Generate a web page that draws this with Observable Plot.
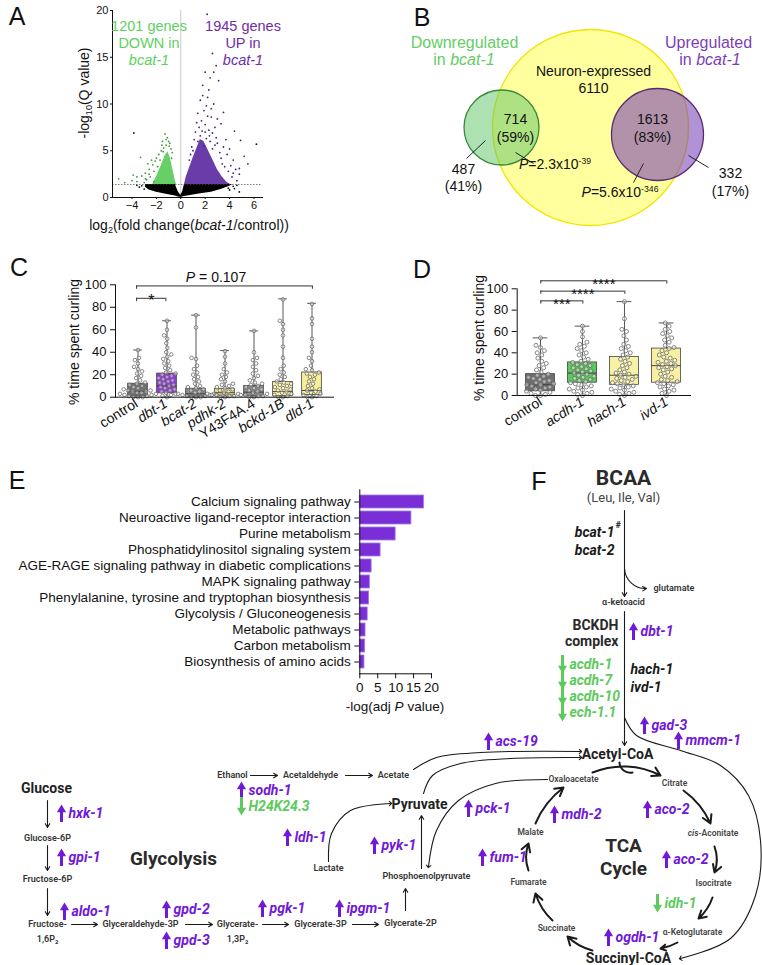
<!DOCTYPE html>
<html><head><meta charset="utf-8">
<script src="https://cdn.jsdelivr.net/npm/d3@7"></script>
<script src="https://cdn.jsdelivr.net/npm/@observablehq/plot@0.6"></script>
<style>
html,body{margin:0;padding:0;background:#fff;}
#fig{position:relative;width:762px;height:965px;overflow:hidden;background:#fff;font-family:"Liberation Sans",Arial,sans-serif;color:#111;}
#fig svg{position:absolute;}
.lbl{position:absolute;white-space:nowrap;line-height:1;}
.lbl sub{font-size:0.65em;vertical-align:-0.3em;line-height:0;}
.lbl sup{font-size:0.62em;vertical-align:0.55em;line-height:0;}
</style></head><body><div id="fig"></div>
<script>
// ================= DATA =================
// Panel A – volcano
const qThreshold = 1.39;
const envBlackX  = [-2.9,-2.6,-2.0,-1.5,-1.0,-0.45,-0.2,0,0.15,0.3,0.8,1.5,2.5,3.3,3.8,4.2];
const envBlackLo = [1.1,0.8,0.55,0.42,0.3,0.15,0.06,0,0.05,0.1,0.22,0.38,0.55,0.85,1.1,1.3];
const envBlackHi = [1.39,1.39,1.39,1.39,1.39,1.39,0.6,0.25,0.6,1.39,1.39,1.39,1.39,1.39,1.39,1.39];
const envGreenX  = [-2.3,-2.0,-1.6,-1.3,-1.05,-0.85,-0.65,-0.45,-0.35];
const envGreenHi = [1.39,2.2,3.4,4.4,4.9,4.2,3.0,1.8,1.39];
const envPurpleX  = [0.3,0.45,0.7,1.0,1.3,1.6,1.9,2.2,2.6,3.0,3.4,3.8,4.1];
const envPurpleHi = [1.39,2.2,3.1,4.2,5.2,6.2,6.0,5.2,4.1,3.0,2.2,1.6,1.39];
const greenPts = [[-1.3,6.8],[-1.1,6.4],[-1.5,6.0],[-0.9,5.8],[-1.6,5.0],[-2.0,4.2],[-2.3,3.5],[-2.6,3.0],[-2.9,2.6],[-3.2,2.3],[-3.6,2.2],[-4.0,1.8],[-3.3,4.3],[-2.7,3.6],[-5.1,2.0],[-3.6,1.7],[-1.2,5.6],[-1.4,5.3],[-0.8,5.2],[-1.8,4.6],[-2.2,2.8],[-1.9,3.3],[-2.5,2.2],[-4.6,1.6],[-1.0,6.0],[-0.7,4.8],[-2.8,1.9],[-3.0,1.6],[-1.7,4.0],[-2.4,4.0],[-1.2,6.2],[-0.95,5.5],[-1.45,4.9],[-2.1,3.9],[-2.9,2.0],[-3.9,2.4],[-2.6,2.5],[-2.2,1.7],[-1.55,5.6],[-0.75,4.2]];
const purplePts = [[2.16,19.6],[2.6,15.4],[2.0,13.4],[2.7,13.4],[2.4,12.8],[3.1,12.5],[1.8,12.0],[2.9,14.1],[1.6,10.4],[2.2,10.7],[2.7,10.0],[3.5,9.1],[1.4,9.0],[1.9,9.3],[2.5,8.6],[3.3,7.9],[4.4,7.1],[4.9,6.1],[5.2,4.4],[5.5,3.6],[4.3,4.0],[4.8,2.5],[4.1,3.4],[4.8,3.1],[3.5,5.4],[2.9,6.4],[3.8,4.6],[1.7,8.2],[2.0,7.8],[2.3,7.2],[1.2,7.0],[1.5,7.5],[2.6,6.9],[3.0,5.8],[3.2,4.8],[1.1,6.2],[0.9,5.4],[2.1,9.8],[1.8,10.9],[2.3,11.5],[2.5,9.5],[3.0,8.4],[3.7,6.2],[4.0,5.2],[4.5,3.0],[0.7,4.0],[3.4,3.6],[3.9,2.8],[4.2,2.2],[4.6,1.8],[2.2,8.7],[1.3,8.0],[2.8,7.5],[2.4,6.0],[1.9,5.5],[1.6,6.6],[2.1,6.3],[2.0,7.0],[2.6,5.2],[3.3,4.2],[1.4,6.0],[1.75,7.1],[2.35,6.6],[2.8,5.6],[3.6,3.3],[4.3,2.6],[1.0,5.0],[0.8,4.6]];
const blackPts = [[-3.85,6.9],[4.8,0.6],[6.2,5.7],[-3.4,1.1],[-3.0,0.9],[3.9,1.0],[4.3,1.2],[4.0,0.8],[-3.2,1.25],[4.6,1.3],[4.4,0.95],[-3.6,1.3]];

// Panel B – Venn
const vennSets   = ["Neuron-expressed","Downregulated","Upregulated"];
const vennCx     = [210,121,277];
const vennCy     = [127,127,134];
const vennR      = [98,37.5,46];
const vennFill   = ["#ffff9e","#5cc464","#7339b4"];
const vennStroke = ["#f2e600","#3a8a3a","#5b2a6e"];
const vennOpacity = [1,0.5,0.55];
const vennCounts = [
  {text:"Neuron-expressed\n6110", x:213, y:78.5},
  {text:"714\n(59%)", x:135, y:127},
  {text:"1613\n(83%)", x:272, y:127},
  {text:"487\n(41%)", x:83, y:176.5},
  {text:"332\n(17%)", x:350, y:181}
];
const vennLeaders = [[86,158,105,140],[135,152,153,163],[308,155,328,167],[263,163,253,182]];

// Panel C – curling, BCAA enzymes
const catsC = ["control","dbt-1","bcat-2","pdhk-2","Y43F4A.4","bckd-1B","dld-1"];
const boxMinC = [0,0,0,0,0,0,0];
const boxQ1C  = [1,3.5,0.5,1.5,1,1,2];
const boxMedC = [5,10,3,4,4.5,5,6];
const boxQ3C  = [12,21,7.5,7.5,10,13.5,22];
const boxMaxC = [42,68,73,41.5,59,87.5,83.5];
const boxColorC = ["#707070","#9434e0","#8a8a8a","#e6e18a","#8c8c8c","#f9f3a2","#f7ef98"];
const cControl = [0,0,0,1,1,2,2,3,3,4,4,5,5,6,6,7,8,9,10,11,12,13,15,17,19,21,23,25,27,30,33,35,42];
const cDbt1 = [0,1,2,3,4,5,6,7,8,9,10,11,12,13,14,15,16,17,18,19,20,21,22,24,26,28,30,32,34,36,38,40,44,48,52,55,60,68];
const cBcat2 = [0,0,0,1,1,2,2,3,3,4,5,6,7,8,9,10,12,14,16,18,20,22,25,28,34,35,62,73];
const cPdhk2 = [0,0,1,1,2,2,3,3,4,5,6,7,8,9,10,11,12,14,16,18,20,22,25,30,36,41];
const cY43 = [0,0,1,1,2,2,3,4,5,6,7,8,9,10,11,12,13,15,17,19,21,24,27,30,33,35,40,59];
const cBckd = [0,0,1,2,3,4,5,6,7,8,9,10,11,12,13,14,16,18,20,22,25,28,35,45,55,60,65,68,87];
const cDld1 = [0,0,1,2,3,4,5,6,7,8,10,12,14,16,18,20,21,22,24,25,28,32,35,40,45,52,65,70,83];
const bracketFromC = [0,0];
const bracketToC   = [1,6];
const bracketYC    = [88,99];
const bracketTextC = ["*",""];

// Panel D – curling, downstream enzymes
const catsD = ["control","acdh-1","hach-1","ivd-1"];
const boxMinD = [0,0,0,0];
const boxQ1D  = [4,12,10,12];
const boxMedD = [10,21,19,28];
const boxQ3D  = [20,31,36,44];
const boxMaxD = [54,65,88,68];
const boxColorD = ["#6e6e6e","#5dc85d","#f6f2a6","#f8f0a0"];
const dControl = [0,0,1,2,3,4,5,6,7,8,9,10,10,11,12,13,14,15,16,17,18,19,20,22,24,26,28,30,32,35,38,40,42,45,47,54];
const dAcdh1 = [0,1,2,3,4,5,6,7,8,9,10,11,12,13,14,15,16,17,18,19,20,21,22,23,24,25,26,27,28,29,30,31,32,34,36,38,40,42,44,46,48,50,55,60,65];
const dHach1 = [0,1,2,3,4,5,6,7,8,9,10,11,12,13,14,15,16,17,18,19,20,21,22,24,26,28,30,32,34,36,38,40,42,44,46,48,52,56,60,62,72,88];
const dIvd1 = [0,2,4,5,6,8,9,10,11,12,13,14,15,17,18,20,22,24,25,26,27,28,29,30,31,32,33,35,36,38,40,42,44,45,47,50,52,54,56,58,60,62,65,68];
const bracketFromD = [0,0,0];
const bracketToD   = [1,2,3];
const bracketYD    = [88.7,97.8,107.5];
const bracketTextD = ["***","****","****"];

// Panel E – KEGG enrichment
const pathwaysE = ["Calcium signaling pathway","Neuroactive ligand-receptor interaction","Purine metabolism","Phosphatidylinositol signaling system","AGE-RAGE signaling pathway in diabetic complications","MAPK signaling pathway","Phenylalanine, tyrosine and tryptophan biosynthesis","Glycolysis / Gluconeogenesis","Metabolic pathways","Carbon metabolism","Biosynthesis of amino acids"];
const valuesE = [17.9,14.4,10.0,5.8,3.3,2.8,2.6,2.2,1.6,1.5,1.3];
const ticksE = [0,5,10,15,20];

// Panel F – pathway diagram (layout in page pixels)
const metabSmall = [
  ["α-ketoacid",623,602],["Ethanol",232,775],["Acetaldehyde",310,775],["Acetate",393,775],
  ["Lactate",328,868],["Phosphoenolpyruvate",426,876],["Glycerate-2P",410,923],
  ["Glucose-6P",47,838],["Fructose-6P",47,879],["Fructose-",47,924],["1,6P₂",47,939],
  ["Glyceraldehyde-3P",140,924],["Glycerate-",237,924],["1,3P₂",237,939],["Glycerate-3P",320,924]
];
const metabTCA = [
  ["Oxaloacetate",573,779],["Citrate",674,783],["Isocitrate",713,883],
  ["α-Ketoglutarate",692,932],["Succinate",556,928],["Fumarate",528,882],["Malate",530,832]
];
const metabMid = [["Glucose",46,788],["Pyruvate",419,804],["Acetyl-CoA",617,754],["Succinyl-CoA",628,958]];
const metabBig = [["BCAA",623,478,21],["Glycolysis",173,858,19],["TCA",623,845,19],["Cycle",623,868,19]];
const genes = [
  ["dbt-1",633,631,"up"],["acdh-1",562,664,"down"],["acdh-7",562,680,"down"],["acdh-10",562,696,"down"],
  ["ech-1.1",562,712,"down"],["gad-3",644,725,"up"],["mmcm-1",678,740,"up"],["acs-19",488,741,"up"],
  ["sodh-1",241,790,"up"],["H24K24.3",241,806,"down"],["ldh-1",287,837,"up"],["pyk-1",374,845,"up"],
  ["pck-1",468,808,"up"],["mdh-2",554,814,"up"],["aco-2",647,809,"up"],["aco-2",666,859,"up"],
  ["fum-1",482,857,"up"],["idh-1",657,903,"down"],["ogdh-1",608,937,"up"],["hxk-1",61,813,"up"],
  ["gpi-1",61,857,"up"],["aldo-1",64,911,"up"],["gpd-2",166,909,"up"],["gpd-3",166,940,"up"],
  ["pgk-1",262,908,"up"],["ipgm-1",339,908,"up"]
];
const thinArrows = [
  [624,510,624,596,0],[624,568,646,588,-45],[624,611,624,745,0],
  [421,868,421,815,0],[405,910,405,888,0],[250,775,277,775,0],[345,775,372,775,0],
  [47,800,47,827,0],[47,845,47,870,0],[47,888,47,915,0],
  [71,924,97,924,0],[185,924,212,924,0],[262,924,288,924,0],[352,924,378,924,0]
];
const curvedPaths = [
  [[413,769],[436,757],[480,752],[580,751]],
  [[423,793],[432,775],[460,763],[510,758],[580,757]],
  [[547,779],[495,783],[458,800],[436,830],[428,866]],
  [[328,861],[331,833],[350,810],[390,803]],
  [[624,717],[636,735],[680,750],[720,765],[748,795],[760,840],[755,895],[730,938],[680,958]]
];
const tcaArrows = [
  [592,772,660,775,25],[683,790,710,823,15],[714,846,714,872,20],[712,897,698,918,15],
  [677,942,660,948,10],[592,950,567,936,15],[552,920,535,893,15],[528,870,528,843,20],[535,823,563,787,15]
];

// ================= HELPERS =================
const fig = document.getElementById("fig");
const SANS = "Liberation Sans, Arial, sans-serif";
const PURPLE = "#7019d6", GREEN = "#5ec95e";
function place(el, left, top) { el.style.left = left + "px"; el.style.top = top + "px"; fig.appendChild(el); return el; }
function addLabel(html, x, y, o = {}) {
  const d = document.createElement("div");
  d.className = "lbl"; d.innerHTML = html;
  const tx = o.anchor === "start" ? "0" : o.anchor === "end" ? "-100%" : "-50%";
  d.style.left = x + "px"; d.style.top = y + "px";
  d.style.fontSize = (o.size || 14) + "px";
  if (o.color) d.style.color = o.color;
  if (o.weight) d.style.fontWeight = o.weight;
  if (o.italic) d.style.fontStyle = "italic";
  if (o.family) d.style.fontFamily = o.family;
  d.style.transform = `translate(${tx},-50%)` + (o.rotate ? ` rotate(${o.rotate}deg)` : "");
  fig.appendChild(d);
}

// ================= PANEL A =================
const blackEnv = envBlackX.map((x, i) => ({x, lo: envBlackLo[i], hi: envBlackHi[i]}));
const greenEnv = envGreenX.map((x, i) => ({x, hi: envGreenHi[i]}));
const purpleEnv = envPurpleX.map((x, i) => ({x, hi: envPurpleHi[i]}));
const A = Plot.plot({
  width: 280, height: 240, marginLeft: 112, marginRight: 18, marginTop: 10, marginBottom: 43,
  style: {fontFamily: SANS, fontSize: "11px", color: "#111", background: "transparent"},
  x: {domain: [-5.6, 6.7], ticks: [-4,-2,0,2,4,6], tickSize: 2, tickPadding: 2, label: null},
  y: {domain: [0, 20], ticks: [0,5,10,15,20], tickSize: 2, tickPadding: 2, label: null},
  marks: [
    Plot.ruleX([0], {stroke: "#c8c8c8"}),
    Plot.areaY(blackEnv, {x: "x", y1: "lo", y2: "hi", fill: "#000"}),
    Plot.areaY(greenEnv, {x: "x", y1: qThreshold, y2: "hi", fill: "#66d066"}),
    Plot.areaY(purpleEnv, {x: "x", y1: qThreshold, y2: "hi", fill: "#6a3caa"}),
    Plot.dot(greenPts, {x: d => d[0], y: d => d[1], r: 0.9, fill: "#3f9a3f"}),
    Plot.dot(purplePts, {x: d => d[0], y: d => d[1], r: 0.9, fill: "#43207a"}),
    Plot.dot(blackPts, {x: d => d[0], y: d => d[1], r: 0.9, fill: "#111"}),
    Plot.ruleY([qThreshold], {stroke: "#444", strokeDasharray: "1.5,1.5", strokeWidth: 0.7}),
    Plot.frame({anchor: "left"}), Plot.frame({anchor: "bottom"})
  ]
});
place(A, 0, 0);

// ================= PANEL B =================
const vennData = vennSets.map((s, i) => ({s, cx: vennCx[i], cy: vennCy[i], r: vennR[i], fill: vennFill[i], stroke: vennStroke[i], op: vennOpacity[i]}));
const B = Plot.plot({
  width: 382, height: 230, margin: 0,
  style: {fontFamily: SANS, fontSize: "14px", color: "#111", background: "transparent", overflow: "visible"},
  x: {domain: [0, 382], range: [0, 382], axis: null},
  y: {domain: [0, 230], range: [0, 230], axis: null},
  r: {type: "identity"},
  marks: [
    Plot.dot(vennData, {x: "cx", y: "cy", r: "r", fill: "fill", stroke: "stroke", fillOpacity: "op", strokeWidth: 1.3}),
    Plot.link(vennLeaders, {x1: d => d[0], y1: d => d[1], x2: d => d[2], y2: d => d[3], stroke: "#222", strokeWidth: 1}),
    Plot.text(vennCounts, {x: "x", y: "y", text: "text", lineHeight: 1.25, fontSize: 14, fill: "#111"}),
    Plot.text(["Downregulated"], {x: 84, y: 42, text: d => d, fontSize: 16, fill: "#66cc66"}),
    Plot.text(["Upregulated"], {x: 328, y: 42, text: d => d, fontSize: 16, fill: "#7b3fb5"})
  ]
});
place(B, 380, 0);

// ================= PANELS C & D (boxes + dots) =================
function boxPanel({cats, mins, q1s, meds, q3s, maxs, colors, groups, brackets, left, top, width, height, mL, mR, mT, mB, po, half, cap, r, starSize}) {
  const box = cats.map((g, i) => ({g, min: mins[i], q1: q1s[i], med: meds[i], q3: q3s[i], max: maxs[i], color: colors[i]}));
  const dots = groups.flatMap((vals, i) => vals.map(v => ({g: cats[i], v})));
  const dims = {width, height, marginLeft: mL, marginRight: mR, marginTop: mT, marginBottom: mB};
  const layer1 = Plot.plot({
    ...dims,
    style: {fontFamily: SANS, background: "transparent", overflow: "visible"},
    fx: {domain: cats, paddingInner: 0, paddingOuter: po, axis: null},
    x: {domain: [-1, 1], axis: null},
    y: {domain: [0, 100], axis: null},
    marks: [
      Plot.ruleX(box, {fx: "g", x: 0, y1: "min", y2: "max", stroke: "#444", strokeWidth: 0.9}),
      Plot.rect(box, {fx: "g", x1: -half, x2: half, y1: "q1", y2: "q3", fill: "color", stroke: "#444", strokeWidth: 0.8}),
      Plot.ruleY(box, {fx: "g", y: "med", x1: -half, x2: half, stroke: "#333", strokeWidth: 0.9}),
      Plot.ruleY(box, {fx: "g", y: "max", x1: -cap, x2: cap, stroke: "#444", strokeWidth: 0.9}),
      Plot.ruleY(box, {fx: "g", y: "min", x1: -cap, x2: cap, stroke: "#444", strokeWidth: 0.9}),
      Plot.dot(dots, Plot.dodgeX("middle", {fx: "g", y: "v", r, padding: -r * 1.4, stroke: "#6a6a6a", strokeWidth: 0.8, fill: "white", fillOpacity: 0.45}))
    ]
  });
  place(layer1, left, top);
  const br = brackets.from.map((f, i) => ({from: f, to: brackets.to[i], y: brackets.y[i], text: brackets.text[i]}));
  const brEnds = br.flatMap(b => [{x: b.from, y: b.y}, {x: b.to, y: b.y}]);
  const layer2 = Plot.plot({
    ...dims,
    style: {fontFamily: SANS, fontSize: "13px", color: "#111", background: "transparent", overflow: "visible"},
    x: {domain: [-po - 0.5, cats.length - 0.5 + po]},
    y: {domain: [0, 100]},
    marks: [
      Plot.axisY({ticks: [0,20,40,60,80,100], tickSize: 5, label: null}),
      Plot.axisX({ticks: cats.map((_, i) => i), tickFormat: i => cats[i], tickRotate: -32, tickSize: 0, tickPadding: 5, label: null}),
      Plot.frame({anchor: "left"}), Plot.frame({anchor: "bottom"}),
      Plot.ruleY(br, {x1: "from", x2: "to", y: "y", stroke: "#333", strokeWidth: 1}),
      Plot.ruleX(brEnds, {x: "x", y1: "y", y2: d => d.y - 3, stroke: "#333", strokeWidth: 1}),
      Plot.text(br.filter(b => b.text), {x: d => (d.from + d.to) / 2, y: "y", text: "text", fontSize: starSize, lineAnchor: "bottom", dy: 8, fill: "#111"})
    ]
  });
  d3.select(layer2).selectAll('g[aria-label="x-axis tick label"] text').each(function () {
    this.setAttribute("font-size", "14");
    if (this.textContent !== "control" && this.textContent !== "Y43F4A.4") this.setAttribute("font-style", "italic");
  });
  place(layer2, left, top);
}
boxPanel({cats: catsC, mins: boxMinC, q1s: boxQ1C, meds: boxMedC, q3s: boxQ3C, maxs: boxMaxC, colors: boxColorC,
  groups: [cControl, cDbt1, cBcat2, cPdhk2, cY43, cBckd, cDld1],
  brackets: {from: bracketFromC, to: bracketToC, y: bracketYC, text: bracketTextC},
  left: 0, top: 240, width: 345, height: 215, mL: 115, mR: 12, mT: 44.3, mB: 58.3, po: 0.22, half: 0.68, cap: 0.3, r: 1.8, starSize: 16});
boxPanel({cats: catsD, mins: boxMinD, q1s: boxQ1D, meds: boxMedD, q3s: boxQ3D, maxs: boxMaxD, colors: boxColorD,
  groups: [dControl, dAcdh1, dHach1, dIvd1],
  brackets: {from: bracketFromD, to: bracketToD, y: bracketYD, text: bracketTextD},
  left: 380, top: 240, width: 382, height: 215, mL: 136.7, mR: 72, mT: 48.3, mB: 60, po: 0.063, half: 0.69, cap: 0.35, r: 2.0, starSize: 15});

// ================= PANEL E =================
const dataE = pathwaysE.map((name, i) => ({name, v: valuesE[i]}));
const E = Plot.plot({
  width: 451, height: 250, marginLeft: 359.3, marginRight: 20, marginTop: 19.3, marginBottom: 46.7,
  style: {fontFamily: SANS, fontSize: "13.5px", color: "#111", background: "transparent", overflow: "visible"},
  x: {domain: [0, 20], ticks: ticksE, tickSize: 5, label: null},
  y: {domain: pathwaysE, paddingInner: 0.2, paddingOuter: 0.1, tickSize: 5, label: null},
  marks: [
    Plot.barX(dataE, {x: "v", y: "name", fill: "#7a2ed8", stroke: "#a57ae6", strokeWidth: 0.8}),
    Plot.frame({anchor: "left"}), Plot.frame({anchor: "bottom"})
  ]
});
place(E, 0, 470);

// ================= PANEL F (diagram overlay) =================
const geneObjs = genes.map(([label, x, y, dir]) => ({label, x, y, dir, color: dir === "up" ? PURPLE : GREEN,
  s1: dir === "up" ? y - 2 : y - 9, s2: dir === "up" ? y + 9 : y + 2, hy: dir === "up" ? y - 3.8 : y + 3.8}));
const toArrow = a => ({x1: a[0], y1: a[1], x2: a[2], y2: a[3], bend: a[4]});
const arrowMarks = (list, sw, head) => d3.groups(list.map(toArrow), d => d.bend).map(([b, arr]) =>
  Plot.arrow(arr, {x1: "x1", y1: "y1", x2: "x2", y2: "y2", bend: b, stroke: "#1a1a1a", strokeWidth: sw, headLength: head}));
const curveData = curvedPaths.flatMap((pts, k) => pts.map(p => ({k, x: p[0], y: p[1]})));
const F = Plot.plot({
  width: 762, height: 965, margin: 0,
  style: {fontFamily: "Roboto, sans-serif", background: "transparent", overflow: "visible", pointerEvents: "none"},
  x: {domain: [0, 762], range: [0, 762], axis: null},
  y: {domain: [0, 965], range: [0, 965], axis: null},
  marks: [
    ...arrowMarks(thinArrows, 1.1, 6),
    ...arrowMarks(tcaArrows, 2, 7),
    Plot.arrow([{x1: 619, y1: 762, x2: 632, y2: 772}], {x1: "x1", y1: "y1", x2: "x2", y2: "y2", bend: -50, stroke: "#1a1a1a", strokeWidth: 2, headLength: 0}),
    Plot.line(curveData, {x: "x", y: "y", z: "k", curve: "catmull-rom", stroke: "#1a1a1a", strokeWidth: 1.1, markerEnd: "arrow"}),
    Plot.text(metabSmall, {x: d => d[1], y: d => d[2], text: d => d[0], fontSize: 9, fontWeight: 600, fill: "#333"}),
    Plot.text(["glutamate"], {x: 653, y: 588, text: d => d, textAnchor: "start", fontSize: 9, fontWeight: 600, fill: "#333"}),
    Plot.text(metabTCA, {x: d => d[1], y: d => d[2], text: d => d[0], fontSize: 8.5, fontWeight: 600, fill: "#444"}),
    Plot.text(["cis"], {x: 698, y: 833, text: d => d, textAnchor: "end", fontSize: 8.5, fontWeight: 600, fontStyle: "italic", fill: "#444"}),
    Plot.text(["-Aconitate"], {x: 698, y: 833, text: d => d, textAnchor: "start", fontSize: 8.5, fontWeight: 600, fill: "#444"}),
    Plot.text(metabMid, {x: d => d[1], y: d => d[2], text: d => d[0], fontSize: 14, fontWeight: "bold", fill: "#222"}),
    Plot.text(metabBig, {x: d => d[1], y: d => d[2], text: d => d[0], fontSize: d => d[3], fontWeight: "bold", fill: "#2a2a2a"}),
    Plot.text(["(Leu, Ile, Val)"], {x: 623, y: 497, text: d => d, fontSize: 13, fill: "#444"}),
    Plot.text(["BCKDH\ncomplex"], {x: 618, y: 632, text: d => d, textAnchor: "end", lineHeight: 1.15, fontSize: 14, fontWeight: "bold", fill: "#2a2a2a"}),
    Plot.text(["bcat-1\nbcat-2"], {x: 614, y: 540, text: d => d, textAnchor: "end", lineHeight: 1.3, fontSize: 14, fontWeight: "bold", fontStyle: "italic", fill: "#1a1a1a"}),
    Plot.text(["#"], {x: 615, y: 525, text: d => d, textAnchor: "start", fontSize: 9, fontWeight: "bold", fill: "#1a1a1a"}),
    Plot.text(["hach-1\nivd-1"], {x: 630, y: 677, text: d => d, textAnchor: "start", lineHeight: 1.3, fontSize: 14, fontWeight: "bold", fontStyle: "italic", fill: "#1a1a1a"}),
    Plot.ruleX(geneObjs, {x: "x", y1: "s1", y2: "s2", stroke: "color", strokeWidth: 3}),
    Plot.dot(geneObjs, {x: "x", y: "hy", symbol: "triangle", r: 3.4, fill: "color", rotate: d => d.dir === "up" ? 0 : 180}),
    Plot.text(geneObjs, {x: d => d.x + 7, y: "y", text: "label", fill: "color", textAnchor: "start", fontSize: 14, fontWeight: "bold", fontStyle: "italic"})
  ]
});
place(F, 0, 0);

// ================= RICH TEXT LABELS =================
[["A",17,16],["B",422,17],["C",19,267],["D",422,269],["E",17,480],["F",539,481]].forEach(([t,x,y]) => addLabel(t, x, y, {size: 25}));
addLabel("1201 genes", 149, 26, {size: 14.5, color: "#5fcf5f"});
addLabel("DOWN in", 149, 43, {size: 14.5, color: "#5fcf5f"});
addLabel("bcat-1", 149, 60, {size: 14.5, color: "#5fcf5f", italic: true});
addLabel("1945 genes", 243, 26, {size: 14.5, color: "#6f2da8"});
addLabel("UP in", 243, 43, {size: 14.5, color: "#6f2da8"});
addLabel("bcat-1", 243, 60, {size: 14.5, color: "#6f2da8", italic: true});
addLabel("-log<sub>10</sub>(Q value)", 84, 93, {size: 14, rotate: -90});
addLabel("log<sub>2</sub>(fold change(<i>bcat-1</i>/control))", 189, 225, {size: 14});
addLabel("in <i>bcat-1</i>", 464, 60, {size: 16, color: "#66cc66"});
addLabel("in <i>bcat-1</i>", 710, 60, {size: 16, color: "#7b3fb5"});
addLabel("<i>P</i>=2.3x10<sup>-39</sup>", 555, 164, {size: 14});
addLabel("<i>P</i>=5.6x10<sup>-346</sup>", 620, 192, {size: 14});
addLabel("% time spent curling", 74, 342, {size: 14, rotate: -90});
addLabel("<i>P</i> = 0.107", 216, 277, {size: 14});
addLabel("% time spent curling", 479, 338, {size: 14, rotate: -90});
addLabel("-log(adj <i>P</i> value)", 395, 707, {size: 13.5});
</script></body></html>
